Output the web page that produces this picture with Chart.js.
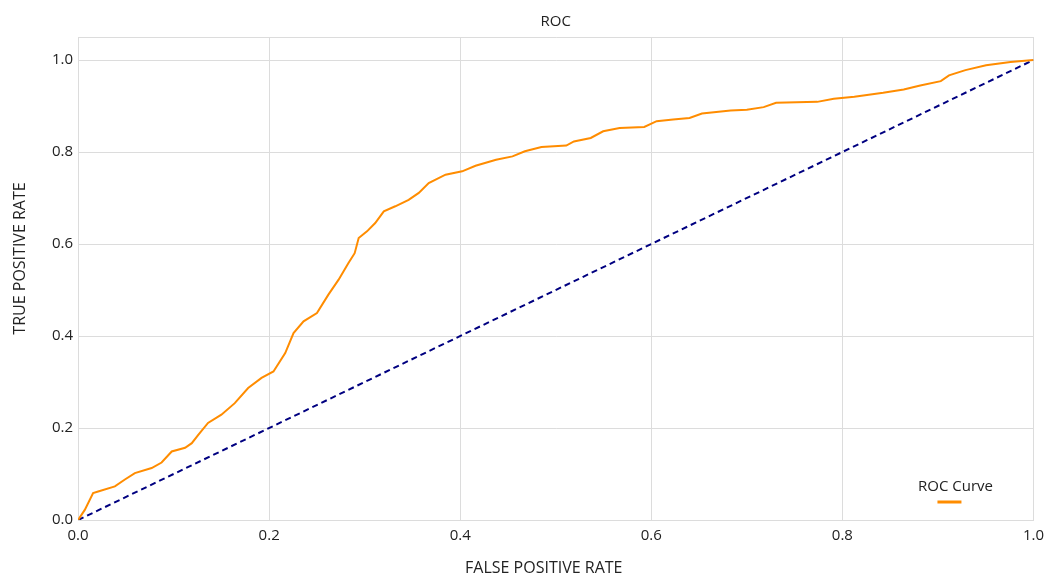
<!DOCTYPE html>
<html>
<head>
<meta charset="utf-8">
<script src="https://cdn.jsdelivr.net/npm/chart.js@4.4.1/dist/chart.umd.min.js"></script>
<style>
  html, body { margin: 0; padding: 0; background: #fff; }
  #wrap { width: 1046px; height: 579px; }
</style>
</head>
<body>
<div id="wrap"><canvas id="roc"></canvas></div>
<script>
// false positive rate / true positive rate pairs for the ROC curve
const fpr = [0, 0.007, 0.0157, 0.021, 0.0385, 0.049, 0.0594, 0.077, 0.0874, 0.098,
  0.112, 0.119, 0.126, 0.136, 0.150, 0.164, 0.178, 0.192, 0.2045, 0.2168,
  0.2255, 0.236, 0.25, 0.262, 0.2727, 0.283, 0.2895, 0.2937, 0.3024, 0.311,
  0.320, 0.332, 0.346, 0.3566, 0.367, 0.3846, 0.402, 0.416, 0.4375, 0.4547,
  0.4677, 0.485, 0.511, 0.519, 0.5366, 0.5496, 0.5668, 0.5926, 0.6056, 0.6228,
  0.640, 0.653, 0.683, 0.700, 0.7176, 0.7306, 0.7737, 0.791, 0.8125, 0.8427,
  0.8642, 0.8815, 0.903, 0.9116, 0.9288, 0.9504, 0.976, 1.0];
const tpr = [0, 0.022, 0.0587, 0.062, 0.073, 0.088, 0.102, 0.113, 0.125, 0.149,
  0.157, 0.167, 0.1855, 0.211, 0.229, 0.254, 0.287, 0.309, 0.323, 0.363,
  0.4065, 0.432, 0.450, 0.490, 0.5225, 0.5587, 0.580, 0.613, 0.6275, 0.6457,
  0.671, 0.682, 0.696, 0.711, 0.7326, 0.7507, 0.758, 0.770, 0.783, 0.7905,
  0.8015, 0.811, 0.814, 0.823, 0.8305, 0.845, 0.852, 0.8545, 0.867, 0.8705,
  0.874, 0.8836, 0.890, 0.892, 0.8975, 0.907, 0.909, 0.9156, 0.920, 0.9287,
  0.936, 0.9447, 0.954, 0.9665, 0.978, 0.9884, 0.9956, 1.0];
const chanceX = [0, 1];
const chanceY = [0, 1];
const tickLabels = ['0.0', '0.2', '0.4', '0.6', '0.8', '1.0'];

const FONT = "'Open Sans', sans-serif";
const TEXT = '#222';

// titles and the legend are placed against the plot area by hand
const rocDecor = {
  id: 'rocDecor',
  afterDraw(chart) {
    const ds = chart.data.datasets[0];
    const area = chart.chartArea;
    const ctx = chart.ctx;
    const mid = (area.left + area.right) / 2;
    const midY = (area.top + area.bottom) / 2;
    ctx.save();
    ctx.fillStyle = TEXT;
    ctx.textAlign = 'center';
    ctx.textBaseline = 'middle';

    ctx.font = '15px ' + FONT;
    ctx.fillText('ROC', mid, 22);

    ctx.font = '16px ' + FONT;
    ctx.fillText('FALSE POSITIVE RATE', mid - 12, 568);
    ctx.save();
    ctx.translate(20, midY - 20);
    ctx.rotate(-Math.PI / 2);
    ctx.fillText('TRUE POSITIVE RATE', 0, 0);
    ctx.restore();

    // legend: label above its line sample
    const cx = area.right - 78;
    ctx.font = '15px ' + FONT;
    ctx.fillText(ds.label, cx, area.bottom - 33);
    ctx.strokeStyle = ds.borderColor;
    ctx.lineWidth = 3;
    ctx.beginPath();
    ctx.moveTo(cx - 18, area.bottom - 18);
    ctx.lineTo(cx + 6, area.bottom - 18);
    ctx.stroke();
    ctx.restore();
  }
};

const label = v => {
  const i = Math.round(v * 5);
  return Math.abs(v * 5 - i) < 1e-6 ? tickLabels[i] : '';
};

new Chart(document.getElementById('roc'), {
  type: 'scatter',
  data: {
    datasets: [
      {
        label: 'ROC Curve',
        data: fpr.map((x, i) => ({ x: x, y: tpr[i] })),
        showLine: true,
        borderColor: '#ff8c00',
        backgroundColor: '#ff8c00',
        borderWidth: 2,
        pointRadius: 0
      },
      {
        label: 'Chance',
        data: chanceX.map((x, i) => ({ x: x, y: chanceY[i] })),
        showLine: true,
        borderColor: '#000080',
        borderWidth: 2,
        borderDash: [6, 4],
        pointRadius: 0
      }
    ]
  },
  options: {
    responsive: true,
    maintainAspectRatio: false,
    animation: false,
    layout: { padding: { left: 47, right: 0, top: 37, bottom: 32 } },
    scales: {
      x: {
        type: 'linear',
        min: 0,
        max: 1,
        grid: { color: '#dcdcdc', tickColor: 'rgba(0,0,0,0)', tickLength: 5 },
        border: { color: '#dcdcdc' },
        ticks: {
          stepSize: 0.2,
          padding: 2,
          color: TEXT,
          font: { family: FONT, size: 15 },
          callback: label
        }
      },
      y: {
        min: 0,
        max: 1.05,
        grid: { color: '#dcdcdc', drawTicks: false },
        border: { color: '#dcdcdc' },
        ticks: {
          stepSize: 0.2,
          padding: 5,
          color: TEXT,
          font: { family: FONT, size: 15 },
          callback: label
        }
      }
    },
    plugins: {
      legend: { display: false },
      tooltip: { enabled: false },
      title: { display: false }
    }
  },
  plugins: [rocDecor]
});
</script>
</body>
</html>
